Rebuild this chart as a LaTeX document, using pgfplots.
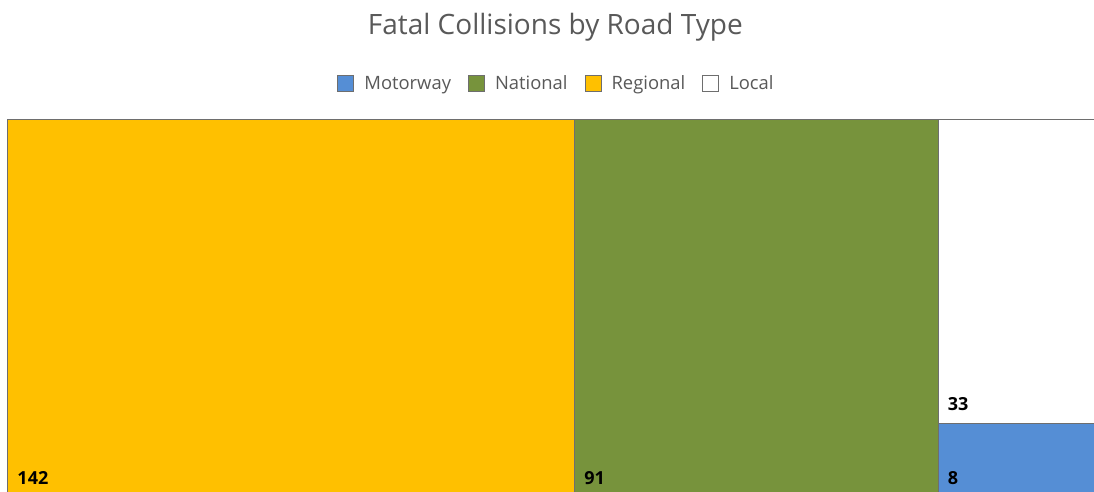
\documentclass[border=0pt]{standalone}
\usepackage{pgfplots}
\pgfplotsset{compat=1.18}
\usepackage{fontspec}
\setmainfont{Open Sans}

\definecolor{cMotorway}{HTML}{558ED5}
\definecolor{cNational}{HTML}{77933C}
\definecolor{cRegional}{HTML}{FFC000}
\definecolor{cLocal}{HTML}{FFFFFF}
\definecolor{edge}{HTML}{6E6E6E}
\definecolor{txt}{HTML}{595959}

% treemap tiles: total 274, Motorway+Local share the last column
\begin{document}
\begin{tikzpicture}
\useasboundingbox (0,0) rectangle (547pt,246pt);
\begin{axis}[
    at={(4pt,0pt)}, anchor=south west,
    width=543pt, height=186pt, scale only axis,
    xmin=0, xmax=272, ymin=0.015, ymax=1,
    axis lines=none, clip=false,
    title={Fatal Collisions by Road Type},
    title style={at={(0.504,1)}, anchor=base, yshift=36.5pt,
        font=\fontsize{14}{16}\selectfont, text=txt},
    legend columns=4,
    legend style={at={(0.506,1)}, anchor=center, yshift=18pt, draw=none,
        font=\fontsize{9.2}{11}\selectfont, text=txt,
        /tikz/every odd column/.append style={column sep=3pt},
        /tikz/every even column/.append style={column sep=6.5pt}},
    legend image code/.code={\draw[#1, line width=0.5pt] (0pt,-4pt) rectangle (8pt,4pt);},
    every axis plot/.append style={line width=0.5pt},
]
\addplot[fill=cMotorway, draw=edge] coordinates {(233,0) (274,0) (274,0.1951) (233,0.1951)} -- cycle;
\addlegendentry{Motorway}
\addplot[fill=cNational, draw=edge] coordinates {(142,0) (233,0) (233,1) (142,1)} -- cycle;
\addlegendentry{National}
\addplot[fill=cRegional, draw=edge] coordinates {(0,0) (142,0) (142,1) (0,1)} -- cycle;
\addlegendentry{Regional}
\addplot[fill=cLocal, draw=edge] coordinates {(233,0.1951) (274,0.1951) (274,1) (233,1)} -- cycle;
\addlegendentry{Local}

\addplot[only marks, mark=none, forget plot,
    nodes near coords, point meta=explicit symbolic,
    nodes near coords style={anchor=base west, xshift=4.5pt, yshift=6.8pt,
        inner sep=0pt, font=\fontsize{9}{11}\selectfont\bfseries, text=black}]
    coordinates {(0,0) [142] (142,0) [91] (233,0.1951) [33] (233,0) [8]};
\end{axis}
\end{tikzpicture}
\end{document}
